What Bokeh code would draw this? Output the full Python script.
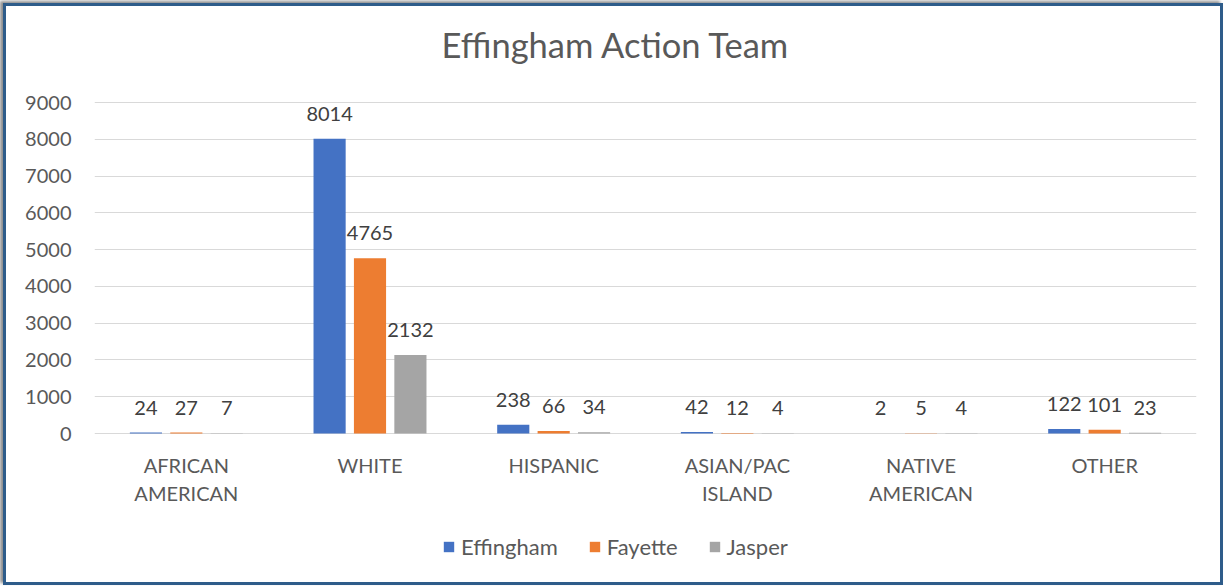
from bokeh.plotting import figure
from bokeh.layouts import column
from bokeh.models import (ColumnDataSource, FactorRange, Range1d, FixedTicker,
                          LabelSet, Label, Legend, LegendItem)
from bokeh.core.properties import value
from bokeh.transform import dodge
from bokeh.embed import file_html
from bokeh.resources import INLINE

categories = ["AFRICAN\nAMERICAN", "WHITE", "HISPANIC", "ASIAN/PAC\nISLAND", "NATIVE\nAMERICAN", "OTHER"]
series_names = ["Effingham", "Fayette", "Jasper"]
effingham = [24, 8014, 238, 42, 2, 122]
fayette = [27, 4765, 66, 12, 5, 101]
jasper = [7, 2132, 34, 4, 4, 23]
y_ticks = [0, 1000, 2000, 3000, 4000, 5000, 6000, 7000, 8000, 9000]
colors = ["#4472C4", "#ED7D31", "#A5A5A5"]
title_text = "Effingham Action Team"

FONT = "Lato"
TXT = "#595959"

line1 = [c.split("\n")[0] for c in categories]
line2 = [c.split("\n")[1] if "\n" in c else "" for c in categories]

source = ColumnDataSource(dict(
    cat=categories, line1=line1, line2=line2,
    Effingham=effingham, Fayette=fayette, Jasper=jasper,
    Effingham_t=[str(v) for v in effingham],
    Fayette_t=[str(v) for v in fayette],
    Jasper_t=[str(v) for v in jasper],
))

# frame extends above 9000 and below 0 to hold title, category labels and legend
p = figure(width=1214, height=576, x_range=FactorRange(*categories, range_padding=0),
           y_range=Range1d(-3997, 11556), output_backend="svg", toolbar_location=None,
           x_axis_location=None,
           min_border_left=88, min_border_right=24, min_border_top=2, min_border_bottom=2)

offsets = [-0.22, 0.0, 0.22]
items = []
for name, off, col in zip(series_names, offsets, colors):
    r = p.vbar(x=dodge("cat", off, range=p.x_range), top=name, width=0.175, source=source,
               fill_color=col, line_color=None)
    items.append(LegendItem(label=name, renderers=[r]))
    labels = LabelSet(x=dodge("cat", off, range=p.x_range), y=name, text=name + "_t", source=source,
                      text_align="center", text_baseline="alphabetic", y_offset=18,
                      text_font=value(FONT), text_font_size=value("20px"), text_color=value("#404040"))
    p.add_layout(labels)

# category labels under the baseline (two centred lines)
for col_name, off in (("line1", -19), ("line2", -47)):
    p.add_layout(LabelSet(x="cat", y=0, text=col_name, source=source, text_align="center",
                          text_baseline="top", y_offset=off,
                          text_font=value(FONT), text_font_size=value("20px"),
                          text_color=value(TXT)))

# title
p.add_layout(Label(x=3.0, y=y_ticks[-1], text=title_text, x_offset=-29.5, y_offset=58,
                   text_align="center", text_baseline="alphabetic",
                   text_font=FONT, text_font_size="34.5px", text_color=TXT))

p.yaxis.ticker = FixedTicker(ticks=y_ticks)
p.ygrid.ticker = FixedTicker(ticks=y_ticks)
p.ygrid.grid_line_color = "#D9D9D9"
p.ygrid.grid_line_width = 1
p.xgrid.grid_line_color = None
p.outline_line_color = None

ax = p.yaxis[0]
ax.axis_line_color = None
ax.major_tick_line_color = None
ax.minor_tick_line_color = None
ax.major_tick_out = 0
ax.major_tick_in = 0
ax.major_label_text_font = FONT
ax.major_label_text_font_size = "20px"
ax.major_label_text_color = TXT
ax.major_label_standoff = 23

legend = Legend(items=items, orientation="horizontal", location=(348, 20),
                label_text_font=FONT, label_text_font_size="22px", label_text_color=TXT,
                glyph_width=13, glyph_height=13, spacing=30, border_line_color=None,
                background_fill_alpha=0, margin=0, padding=0, label_standoff=6)
p.add_layout(legend)

layout = column(p, margin=(3, 0, 0, 3),
                styles={"border": "3px solid #2E5C8A", "box-shadow": "-3px -2px 3px rgba(0,0,0,0.45)"})
open("out.html", "w").write(file_html(layout, INLINE))
